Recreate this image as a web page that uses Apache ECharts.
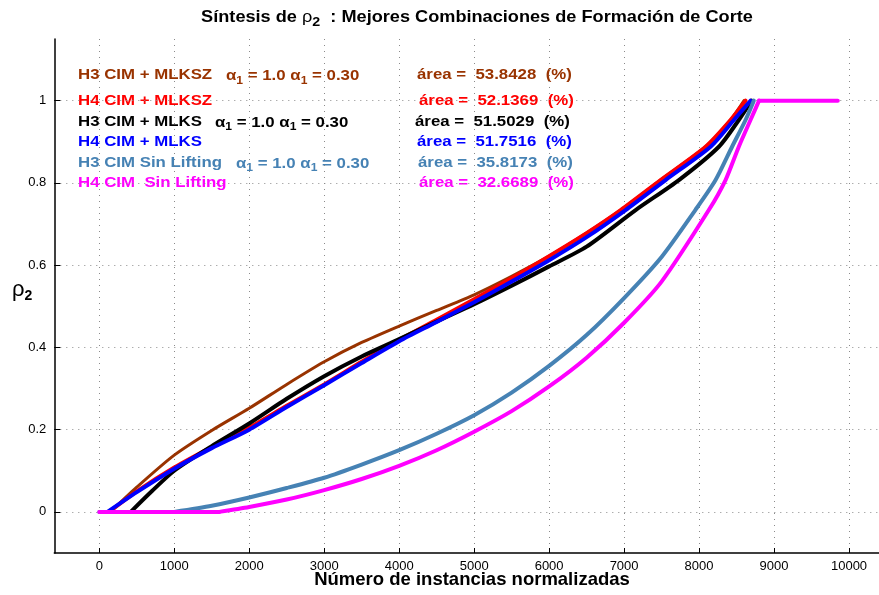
<!DOCTYPE html>
<html>
<head>
<meta charset="utf-8">
<script src="https://cdn.jsdelivr.net/npm/echarts@6/dist/echarts.min.js"></script>
<style>
html, body { margin: 0; padding: 0; background: #ffffff; }
#chart { width: 879px; height: 595px; }
</style>
</head>
<body>
<div id="chart"></div>
<script>
// Axis ticks
const xTicks = [0, 1000, 2000, 3000, 4000, 5000, 6000, 7000, 8000, 9000, 10000];
const yTicks = [0, 0.2, 0.4, 0.6, 0.8, 1];

// H3 CIM + MLKSZ
const h3MlkszX = [150, 500, 1000, 1500, 2000, 2500, 3000, 3500, 4000, 4500, 5000, 5500, 6000, 6500, 6955, 7487, 8087, 8420, 8600];
const h3MlkszY = [0, 0.06, 0.138, 0.198, 0.252, 0.31, 0.365, 0.412, 0.452, 0.49, 0.528, 0.573, 0.622, 0.678, 0.734, 0.807, 0.888, 0.953, 1.0];

// H4 CIM + MLKSZ
const h4MlkszX = [130, 500, 1000, 1500, 2000, 2500, 3000, 3500, 4000, 4500, 5000, 5500, 6000, 6500, 6955, 7487, 8087, 8420, 8620];
const h4MlkszY = [0, 0.05, 0.108, 0.158, 0.205, 0.258, 0.31, 0.365, 0.418, 0.467, 0.517, 0.568, 0.622, 0.678, 0.734, 0.807, 0.888, 0.953, 1.0];

// H3 CIM + MLKS
const h3MlksX = [420, 700, 1000, 1500, 2000, 2500, 3000, 3500, 4000, 4500, 5000, 5500, 6000, 6500, 7154, 7731, 8264, 8530, 8700];
const h3MlksY = [0, 0.05, 0.10, 0.16, 0.215, 0.275, 0.33, 0.378, 0.42, 0.463, 0.505, 0.55, 0.597, 0.645, 0.734, 0.807, 0.888, 0.953, 1.0];

// H4 CIM + MLKS
const h4MlksX = [110, 500, 1000, 1500, 2000, 2500, 3000, 3500, 4000, 4500, 5000, 5500, 6000, 6500, 7020, 7553, 8153, 8464, 8686];
const h4MlksY = [0, 0.048, 0.105, 0.155, 0.2, 0.255, 0.308, 0.362, 0.415, 0.462, 0.51, 0.56, 0.612, 0.668, 0.734, 0.807, 0.888, 0.953, 1.0];

// H3 CIM Sin Lifting (flat at 0 before rising)
const h3SinHeadX = [0, 1000];
const h3SinHeadY = [0, 0];
const h3SinX = [1000, 1500, 2000, 2500, 3000, 3500, 4000, 4500, 5000, 5500, 6000, 6500, 7000, 7500, 7950, 8220, 8440, 8620, 8730];
const h3SinY = [0, 0.015, 0.035, 0.058, 0.083, 0.115, 0.15, 0.19, 0.235, 0.29, 0.355, 0.43, 0.52, 0.62, 0.734, 0.807, 0.888, 0.953, 1.0];

// H4 CIM Sin Lifting (flat at 0 before rising, flat at 1 after)
const h4SinHeadX = [0, 1600];
const h4SinHeadY = [0, 0];
const h4SinX = [1600, 2000, 2500, 3000, 3500, 4000, 4500, 5000, 5500, 6000, 6500, 7000, 7500, 8130, 8353, 8530, 8686, 8800];
const h4SinY = [0, 0.012, 0.03, 0.053, 0.08, 0.112, 0.15, 0.195, 0.245, 0.305, 0.375, 0.46, 0.56, 0.734, 0.807, 0.888, 0.953, 1.0];
const h4SinTailX = [8800, 9850];
const h4SinTailY = [1.0, 1.0];

// Annotation texts
const seriesNames = ['H3 CIM + MLKSZ', 'H4 CIM + MLKSZ', 'H3 CIM + MLKS', 'H4 CIM + MLKS', 'H3 CIM Sin Lifting', 'H4 CIM  Sin Lifting'];
const areaValues = ['53.8428', '52.1369', '51.5029', '51.7516', '35.8173', '32.6689'];
const alphaFirst = '1.0';
const alphaSecond = '0.30';

const colors = ['#993300', '#ff0000', '#000000', '#0000ff', '#4682b4', '#ff00ff'];
const widths = [3, 4, 4, 4, 4, 4];
const xs = [h3MlkszX, h4MlkszX, h3MlksX, h4MlksX, h3SinX, h4SinX];
const ys = [h3MlkszY, h4MlkszY, h3MlksY, h4MlksY, h3SinY, h4SinY];
const hasAlpha = [true, false, true, false, true, false];

const zip = (a, b) => a.map((v, i) => [v, b[i]]);

const FONT = 'Liberation Sans, Arial, Helvetica, sans-serif';
const gridStyle = { type: [1, 5], color: '#8a8a8a', width: 1 };

const lineSeries = (name, data, i, smooth, z) => ({
  name: name,
  type: 'line',
  data: data,
  showSymbol: false,
  symbol: 'none',
  smooth: smooth,
  lineStyle: { color: colors[i], width: widths[i], cap: 'round', join: 'round' },
  z: z,
  silent: true
});

const series = seriesNames.map((name, i) => lineSeries(name, zip(xs[i], ys[i]), i, 0.25, 2 + i));
// Flat segments of the two "Sin Lifting" curves
series.push(lineSeries(seriesNames[4], zip(h3SinHeadX, h3SinHeadY), 4, false, 6));
series.push(lineSeries(seriesNames[5], zip(h4SinHeadX, h4SinHeadY), 5, false, 7));
series.push(lineSeries(seriesNames[5], zip(h4SinTailX, h4SinTailY), 5, false, 7));

// Annotation rows
const rowY = [75, 101, 121.5, 142, 162.5, 183];
const nameX = 78;
const alphaX = [226, null, 215, null, 236, null];
const areaX = [417, 419, 415, 417, 418, 419];
const legendScale = 1.1;

const richAlpha = (color) => ({
  t: { fontFamily: FONT, fontWeight: 'bold', fontSize: 15.3, fill: color },
  s: { fontFamily: FONT, fontWeight: 'bold', fontSize: 11, fill: color, padding: [9, 0, 0, 0] }
});

const graphics = [];
seriesNames.forEach((name, i) => {
  graphics.push({
    type: 'text', x: nameX, y: rowY[i], scaleX: legendScale, silent: true,
    style: { text: name, fill: colors[i], font: 'bold 15.3px ' + FONT, verticalAlign: 'middle' }
  });
  if (hasAlpha[i]) {
    graphics.push({
      type: 'text', x: alphaX[i], y: rowY[i] + 1, scaleX: legendScale, silent: true,
      style: {
        text: '{t|α}{s|1}{t| = ' + alphaFirst + ' α}{s|1}{t| = ' + alphaSecond + '}',
        verticalAlign: 'middle',
        rich: richAlpha(colors[i])
      }
    });
  }
  graphics.push({
    type: 'text', x: areaX[i], y: rowY[i], scaleX: legendScale, silent: true,
    style: { text: 'área =  ' + areaValues[i] + '  (%)', fill: colors[i], font: 'bold 15.3px ' + FONT, verticalAlign: 'middle' }
  });
});

// Title
graphics.push({
  type: 'text', x: 477, y: 17, scaleX: 1.1, silent: true,
  style: {
    text: '{t|Síntesis de }{r|ρ}{s|2}{t|  : Mejores Combinaciones de Formación de Corte}',
    align: 'center', verticalAlign: 'middle',
    rich: {
      t: { fontFamily: FONT, fontWeight: 'bold', fontSize: 16.5, fill: '#000' },
      r: { fontFamily: FONT, fontSize: 16.5, fill: '#000' },
      s: { fontFamily: FONT, fontWeight: 'bold', fontSize: 13, fill: '#000', padding: [10, 0, 0, 0] }
    }
  }
});

// Y axis name
graphics.push({
  type: 'text', x: 12, y: 290, silent: true,
  style: {
    text: '{r|ρ}{s|2}',
    verticalAlign: 'middle',
    rich: {
      r: { fontFamily: FONT, fontSize: 22, fill: '#000' },
      s: { fontFamily: FONT, fontWeight: 'bold', fontSize: 14, fill: '#000', padding: [12, 0, 0, 0] }
    }
  }
});

// X axis name
graphics.push({
  type: 'text', x: 472, y: 580, silent: true,
  style: { text: 'Número de instancias normalizadas', fill: '#000', font: 'bold 18.5px ' + FONT, align: 'center', verticalAlign: 'middle' }
});

const chart = echarts.init(document.getElementById('chart'), null, { renderer: 'canvas' });
chart.setOption({
  animation: false,
  backgroundColor: '#ffffff',
  grid: { left: 54.3, right: -1, top: 39, bottom: 42, containLabel: false },
  xAxis: {
    type: 'value', min: -600, max: 10400,
    axisLine: { show: true, onZero: false, lineStyle: { color: '#000', width: 1.5 } },
    axisTick: { show: true, inside: true, length: 5, customValues: xTicks, lineStyle: { color: '#000' } },
    axisLabel: { customValues: xTicks, formatter: (v) => String(v), color: '#000', fontFamily: FONT, fontSize: 13, margin: 7 },
    splitLine: { show: true, lineStyle: gridStyle }
  },
  yAxis: {
    type: 'value', min: -0.1, max: 1.15,
    axisLine: { show: true, onZero: false, lineStyle: { color: '#000', width: 1.5 } },
    axisTick: { show: true, inside: true, length: 6, customValues: yTicks, lineStyle: { color: '#000' } },
    axisLabel: { customValues: yTicks, formatter: (v) => String(v), color: '#000', fontFamily: FONT, fontSize: 13, margin: 8 },
    splitLine: { show: true, lineStyle: gridStyle }
  },
  series: series,
  graphic: graphics
});
</script>
</body>
</html>
